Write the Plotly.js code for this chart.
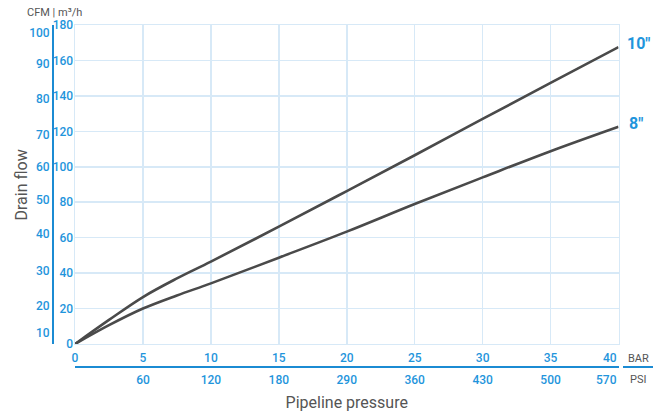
<!DOCTYPE html>
<html>
<head>
<meta charset="utf-8">
<script src="https://cdn.plot.ly/plotly-3.0.1.min.js"></script>
<style>html,body{margin:0;padding:0;background:#fff;}#chart{width:665px;height:414px;}</style>
</head>
<body>
<div id="chart"></div>
<script>
// Data
const pressureBar = [0, 2.5, 5, 7.5, 10, 15, 20, 25, 30, 35, 40];
const flow10in = [0, 13.6, 26.5, 37, 46.5, 66.2, 86.3, 106.5, 127, 147.3, 167.5];
const flow8in = [0, 10.6, 20, 27.4, 34.2, 48.7, 63.4, 79, 94, 108.8, 122.6];
const seriesNames = ['10"', '8"'];

const barTicks = [0, 5, 10, 15, 20, 25, 30, 35, 40];
const barLabels = ['0', '5', '10', '15', '20', '25', '30', '35', '40'];
const psiTickAt = [5, 10, 15, 20, 25, 30, 35, 40];
const psiLabels = ['60', '120', '180', '290', '360', '430', '500', '570'];
const m3hTicks = [0, 20, 40, 60, 80, 100, 120, 140, 160, 180];
const cfmTickAt = [6.2, 21.4, 41.2, 62.1, 81.3, 99.9, 117.9, 138.3, 158, 175.5];
const cfmLabels = ['10', '20', '30', '40', '50', '60', '70', '80', '90', '100'];
const unitLabels = ['BAR', 'PSI'];

const BLUE = '#1f95dc';
const AXBLUE = '#1b8bd3';
const GRID = '#d7e9f7';
const GREY = '#555555';
const LINE = '#4a4a4a';
const FONT = 'Roboto, "Open Sans", sans-serif';

const xDom = [0.0367, 0.9425];
const yDom = [0.0673, 1];

const traces = [
  {x: pressureBar, y: flow10in, name: seriesNames[0], mode: 'lines',
   line: {color: LINE, width: 2.6, shape: 'spline', smoothing: 1}, xaxis: 'x', yaxis: 'y', cliponaxis: false},
  {x: pressureBar, y: flow8in, name: seriesNames[1], mode: 'lines',
   line: {color: LINE, width: 2.6, shape: 'spline', smoothing: 1}, xaxis: 'x', yaxis: 'y', cliponaxis: false},
  // carrier trace so the secondary (PSI / CFM) axes get drawn; draws nothing visible
  {x: [pressureBar[0]], y: [flow10in[0]], mode: 'lines', xaxis: 'x2', yaxis: 'y2',
   hoverinfo: 'skip', showlegend: false, line: {width: 0}}
];

const tickFont = {family: FONT, size: 12, color: BLUE, weight: 500};
const nB = barTicks.length - 1, nP = psiTickAt.length - 1;

const layout = {
  width: 665, height: 414,
  margin: {l: 53, r: 12, t: 25, b: 47, pad: 0},
  paper_bgcolor: '#fff', plot_bgcolor: '#fff',
  showlegend: false,
  font: {family: FONT},
  xaxis: {
    domain: xDom, range: [0, 40], anchor: 'y',
    // last label is placed flush with the right edge (annotation below)
    tickvals: barTicks.slice(0, nB), ticktext: barLabels.slice(0, nB), ticks: '', tickfont: tickFont,
    showgrid: true, gridcolor: GRID, gridwidth: 1.5,
    showline: true, mirror: true, linecolor: GRID, linewidth: 1.5,
    zeroline: false, ticklabelstandoff: 2
  },
  xaxis2: {
    overlaying: 'x', anchor: 'free', position: 0, side: 'bottom',
    domain: xDom, range: [0, 40],
    tickvals: psiTickAt.slice(0, nP), ticktext: psiLabels.slice(0, nP), ticks: '', tickfont: tickFont,
    showgrid: false, zeroline: false,
    showline: true, linecolor: AXBLUE, linewidth: 2,
    ticklabelstandoff: 2,
    title: {text: 'Pipeline pressure', font: {family: FONT, size: 16, color: GREY}, standoff: 9}
  },
  yaxis: {
    domain: yDom, range: [0, 180], anchor: 'x',
    tickvals: m3hTicks, ticks: '', tickfont: tickFont,
    showgrid: true, gridcolor: GRID, gridwidth: 1.5,
    showline: true, mirror: true, linecolor: GRID, linewidth: 1.5,
    zeroline: false, ticklabelstandoff: -2
  },
  yaxis2: {
    overlaying: 'y', anchor: 'free', position: 0, side: 'left',
    domain: yDom, range: [0, 180],
    tickvals: cfmTickAt, ticktext: cfmLabels, ticks: '', tickfont: tickFont,
    showgrid: false, zeroline: false,
    showline: true, linecolor: AXBLUE, linewidth: 2,
    ticklabelstandoff: 0
  },
  shapes: [
    {type: 'line', xref: 'paper', yref: 'paper', x0: 0.95, x1: 1.0, y0: 0, y1: 0,
     line: {color: AXBLUE, width: 2}}
  ],
  annotations: [
    {xref: 'x', yref: 'paper', x: barTicks[nB], y: 0.026, text: barLabels[nB], showarrow: false,
     xanchor: 'right', yanchor: 'middle', font: tickFont},
    {xref: 'x2', yref: 'paper', x: psiTickAt[nP], y: -0.038, text: psiLabels[nP], showarrow: false,
     xanchor: 'right', yanchor: 'middle', font: tickFont},
    {xref: 'paper', yref: 'paper', x: 0.975, y: 0.024, text: unitLabels[0], showarrow: false,
     xanchor: 'center', yanchor: 'middle', font: {family: FONT, size: 11, color: GREY}},
    {xref: 'paper', yref: 'paper', x: 0.975, y: -0.037, text: unitLabels[1], showarrow: false,
     xanchor: 'center', yanchor: 'middle', font: {family: FONT, size: 11, color: GREY}},
    {xref: 'paper', yref: 'paper', x: 0.002, y: 1.038, text: 'CFM | m³/h', showarrow: false,
     xanchor: 'center', yanchor: 'middle', font: {family: FONT, size: 11, color: GREY}},
    {xref: 'paper', yref: 'paper', x: -0.0517, y: 0.5336, text: 'Drain flow', showarrow: false,
     textangle: -90, xanchor: 'center', yanchor: 'middle', font: {family: FONT, size: 16, color: GREY}},
    {xref: 'x', yref: 'y', x: pressureBar[pressureBar.length - 1], y: flow10in[flow10in.length - 1],
     text: seriesNames[0], showarrow: false, xanchor: 'left', yanchor: 'middle', xshift: 6, yshift: 4,
     font: {family: FONT, size: 16, color: BLUE, weight: 'bold'}},
    {xref: 'x', yref: 'y', x: pressureBar[pressureBar.length - 1], y: flow8in[flow8in.length - 1],
     text: seriesNames[1], showarrow: false, xanchor: 'left', yanchor: 'middle', xshift: 8, yshift: 3,
     font: {family: FONT, size: 16, color: BLUE, weight: 'bold'}}
  ]
};

Plotly.newPlot('chart', traces, layout, {displayModeBar: false, staticPlot: true});
</script>
</body>
</html>
